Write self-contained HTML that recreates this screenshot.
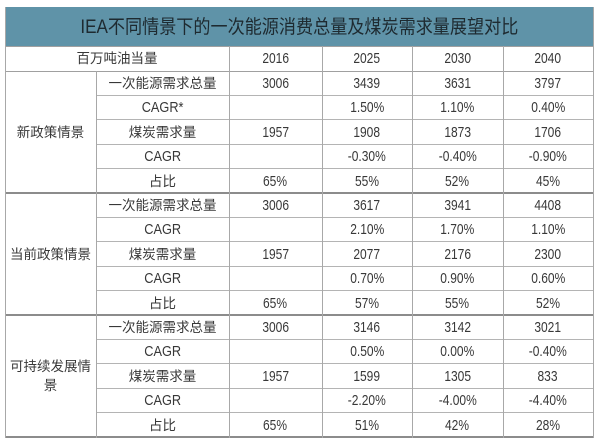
<!DOCTYPE html>
<html><head><meta charset="utf-8">
<style>
html,body{margin:0;padding:0;background:#fff;}
body{width:600px;height:446px;position:relative;overflow:hidden;font-family:"Liberation Sans","Noto Sans CJK SC",sans-serif;color:#383838;}
.t{position:absolute;left:5px;top:7px;width:588px;height:39px;background:#5f93a8;display:flex;align-items:center;justify-content:center;}
.t span{font-size:19px;color:#1e2a30;display:inline-block;transform:scaleX(0.9);white-space:nowrap;margin-top:-3px;}
.h{position:absolute;height:1px;background:#b4b4b4;}
.g{position:absolute;height:2px;background:#8c8c8c;}
.v{position:absolute;width:1px;background:#a8a8a8;}
.c{position:absolute;display:flex;align-items:center;justify-content:center;font-size:13.5px;white-space:nowrap;text-align:center;line-height:19px;}
.n{display:inline-block;font-size:15px;transform:scaleX(0.8);}
.e{display:inline-block;font-size:15px;transform:scaleX(0.85);}
</style></head><body>
<div class="t"><span>IEA不同情景下的一次能源消费总量及煤炭需求量展望对比</span></div>

<!-- horizontal lines -->
<div class="h" style="left:5px;top:46px;width:589px;background:#a0a0a0"></div>
<div class="h" style="left:5px;top:71px;width:589px;background:#a0a0a0"></div>
<div class="h" style="left:96px;top:95px;width:498px"></div>
<div class="h" style="left:96px;top:119px;width:498px"></div>
<div class="h" style="left:96px;top:144px;width:498px"></div>
<div class="h" style="left:96px;top:168px;width:498px"></div>
<div class="g" style="left:5px;top:192px;width:589px"></div>
<div class="h" style="left:96px;top:217px;width:498px"></div>
<div class="h" style="left:96px;top:241px;width:498px"></div>
<div class="h" style="left:96px;top:266px;width:498px"></div>
<div class="h" style="left:96px;top:290px;width:498px"></div>
<div class="g" style="left:5px;top:314px;width:589px"></div>
<div class="h" style="left:96px;top:339px;width:498px"></div>
<div class="h" style="left:96px;top:363px;width:498px"></div>
<div class="h" style="left:96px;top:388px;width:498px"></div>
<div class="h" style="left:96px;top:412px;width:498px"></div>
<div class="g" style="left:5px;top:436px;width:589px"></div>

<!-- vertical lines -->
<div class="v" style="left:5px;top:7px;height:431px"></div>
<div class="v" style="left:96px;top:71px;height:367px"></div>
<div class="v" style="left:229px;top:46px;height:392px"></div>
<div class="v" style="left:322px;top:46px;height:392px"></div>
<div class="v" style="left:412px;top:46px;height:392px"></div>
<div class="v" style="left:503px;top:46px;height:392px"></div>
<div class="v" style="left:593px;top:7px;height:431px"></div>

<!-- header -->
<div class="c" style="left:5px;top:46px;width:224px;height:25px">百万吨油当量</div>
<div class="c" style="left:229px;top:46px;width:93px;height:25px"><span class="n">2016</span></div>
<div class="c" style="left:322px;top:46px;width:90px;height:25px"><span class="n">2025</span></div>
<div class="c" style="left:412px;top:46px;width:91px;height:25px"><span class="n">2030</span></div>
<div class="c" style="left:503px;top:46px;width:90px;height:25px"><span class="n">2040</span></div>

<!-- group labels -->
<div class="c" style="left:5px;top:71px;width:91px;height:122px">新政策情景</div>
<div class="c" style="left:5px;top:193px;width:91px;height:122px">当前政策情景</div>
<div class="c" style="left:5px;top:315px;width:91px;height:122px">可持续发展情<br>景</div>

<!-- group 1 -->
<div class="c" style="left:96px;top:71px;width:133px;height:24px">一次能源需求总量</div>
<div class="c" style="left:229px;top:71px;width:93px;height:24px"><span class="n">3006</span></div>
<div class="c" style="left:322px;top:71px;width:90px;height:24px"><span class="n">3439</span></div>
<div class="c" style="left:412px;top:71px;width:91px;height:24px"><span class="n">3631</span></div>
<div class="c" style="left:503px;top:71px;width:90px;height:24px"><span class="n">3797</span></div>

<div class="c" style="left:96px;top:95px;width:133px;height:24px"><span class="e">CAGR*</span></div>
<div class="c" style="left:322px;top:95px;width:90px;height:24px"><span class="n">1.50%</span></div>
<div class="c" style="left:412px;top:95px;width:91px;height:24px"><span class="n">1.10%</span></div>
<div class="c" style="left:503px;top:95px;width:90px;height:24px"><span class="n">0.40%</span></div>

<div class="c" style="left:96px;top:120px;width:133px;height:24px">煤炭需求量</div>
<div class="c" style="left:229px;top:120px;width:93px;height:24px"><span class="n">1957</span></div>
<div class="c" style="left:322px;top:120px;width:90px;height:24px"><span class="n">1908</span></div>
<div class="c" style="left:412px;top:120px;width:91px;height:24px"><span class="n">1873</span></div>
<div class="c" style="left:503px;top:120px;width:90px;height:24px"><span class="n">1706</span></div>

<div class="c" style="left:96px;top:144px;width:133px;height:24px"><span class="e">CAGR</span></div>
<div class="c" style="left:322px;top:144px;width:90px;height:24px"><span class="n">-0.30%</span></div>
<div class="c" style="left:412px;top:144px;width:91px;height:24px"><span class="n">-0.40%</span></div>
<div class="c" style="left:503px;top:144px;width:90px;height:24px"><span class="n">-0.90%</span></div>

<div class="c" style="left:96px;top:169px;width:133px;height:24px">占比</div>
<div class="c" style="left:229px;top:169px;width:93px;height:24px"><span class="n">65%</span></div>
<div class="c" style="left:322px;top:169px;width:90px;height:24px"><span class="n">55%</span></div>
<div class="c" style="left:412px;top:169px;width:91px;height:24px"><span class="n">52%</span></div>
<div class="c" style="left:503px;top:169px;width:90px;height:24px"><span class="n">45%</span></div>

<!-- group 2 -->
<div class="c" style="left:96px;top:193px;width:133px;height:24px">一次能源需求总量</div>
<div class="c" style="left:229px;top:193px;width:93px;height:24px"><span class="n">3006</span></div>
<div class="c" style="left:322px;top:193px;width:90px;height:24px"><span class="n">3617</span></div>
<div class="c" style="left:412px;top:193px;width:91px;height:24px"><span class="n">3941</span></div>
<div class="c" style="left:503px;top:193px;width:90px;height:24px"><span class="n">4408</span></div>

<div class="c" style="left:96px;top:217px;width:133px;height:24px"><span class="e">CAGR</span></div>
<div class="c" style="left:322px;top:217px;width:90px;height:24px"><span class="n">2.10%</span></div>
<div class="c" style="left:412px;top:217px;width:91px;height:24px"><span class="n">1.70%</span></div>
<div class="c" style="left:503px;top:217px;width:90px;height:24px"><span class="n">1.10%</span></div>

<div class="c" style="left:96px;top:242px;width:133px;height:24px">煤炭需求量</div>
<div class="c" style="left:229px;top:242px;width:93px;height:24px"><span class="n">1957</span></div>
<div class="c" style="left:322px;top:242px;width:90px;height:24px"><span class="n">2077</span></div>
<div class="c" style="left:412px;top:242px;width:91px;height:24px"><span class="n">2176</span></div>
<div class="c" style="left:503px;top:242px;width:90px;height:24px"><span class="n">2300</span></div>

<div class="c" style="left:96px;top:266px;width:133px;height:24px"><span class="e">CAGR</span></div>
<div class="c" style="left:322px;top:266px;width:90px;height:24px"><span class="n">0.70%</span></div>
<div class="c" style="left:412px;top:266px;width:91px;height:24px"><span class="n">0.90%</span></div>
<div class="c" style="left:503px;top:266px;width:90px;height:24px"><span class="n">0.60%</span></div>

<div class="c" style="left:96px;top:291px;width:133px;height:24px">占比</div>
<div class="c" style="left:229px;top:291px;width:93px;height:24px"><span class="n">65%</span></div>
<div class="c" style="left:322px;top:291px;width:90px;height:24px"><span class="n">57%</span></div>
<div class="c" style="left:412px;top:291px;width:91px;height:24px"><span class="n">55%</span></div>
<div class="c" style="left:503px;top:291px;width:90px;height:24px"><span class="n">52%</span></div>

<!-- group 3 -->
<div class="c" style="left:96px;top:315px;width:133px;height:24px">一次能源需求总量</div>
<div class="c" style="left:229px;top:315px;width:93px;height:24px"><span class="n">3006</span></div>
<div class="c" style="left:322px;top:315px;width:90px;height:24px"><span class="n">3146</span></div>
<div class="c" style="left:412px;top:315px;width:91px;height:24px"><span class="n">3142</span></div>
<div class="c" style="left:503px;top:315px;width:90px;height:24px"><span class="n">3021</span></div>

<div class="c" style="left:96px;top:339px;width:133px;height:24px"><span class="e">CAGR</span></div>
<div class="c" style="left:322px;top:339px;width:90px;height:24px"><span class="n">0.50%</span></div>
<div class="c" style="left:412px;top:339px;width:91px;height:24px"><span class="n">0.00%</span></div>
<div class="c" style="left:503px;top:339px;width:90px;height:24px"><span class="n">-0.40%</span></div>

<div class="c" style="left:96px;top:364px;width:133px;height:24px">煤炭需求量</div>
<div class="c" style="left:229px;top:364px;width:93px;height:24px"><span class="n">1957</span></div>
<div class="c" style="left:322px;top:364px;width:90px;height:24px"><span class="n">1599</span></div>
<div class="c" style="left:412px;top:364px;width:91px;height:24px"><span class="n">1305</span></div>
<div class="c" style="left:503px;top:364px;width:90px;height:24px"><span class="n">833</span></div>

<div class="c" style="left:96px;top:388px;width:133px;height:24px"><span class="e">CAGR</span></div>
<div class="c" style="left:322px;top:388px;width:90px;height:24px"><span class="n">-2.20%</span></div>
<div class="c" style="left:412px;top:388px;width:91px;height:24px"><span class="n">-4.00%</span></div>
<div class="c" style="left:503px;top:388px;width:90px;height:24px"><span class="n">-4.40%</span></div>

<div class="c" style="left:96px;top:413px;width:133px;height:24px">占比</div>
<div class="c" style="left:229px;top:413px;width:93px;height:24px"><span class="n">65%</span></div>
<div class="c" style="left:322px;top:413px;width:90px;height:24px"><span class="n">51%</span></div>
<div class="c" style="left:412px;top:413px;width:91px;height:24px"><span class="n">42%</span></div>
<div class="c" style="left:503px;top:413px;width:90px;height:24px"><span class="n">28%</span></div>
</body></html>
